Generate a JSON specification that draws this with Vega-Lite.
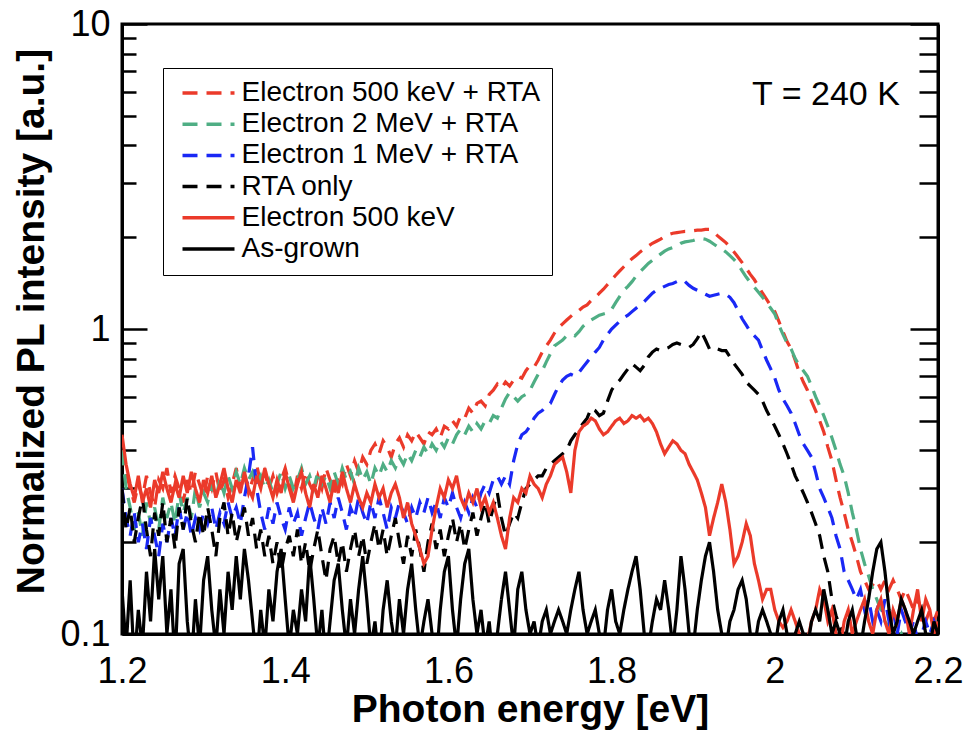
{
"$schema": "https://vega.github.io/schema/vega-lite/v6.json",
"width": 816, "height": 610,
"autosize": {"type": "none"},
"padding": {"left": 122, "top": 24, "right": 25, "bottom": 106},
"background": "white",
"config": {"font": "Liberation Sans", "view": {"stroke": "black", "strokeWidth": 3}, "axis": {"grid": false, "labelColor": "black", "titleColor": "black", "domainColor": "black", "tickColor": "black", "labelOverlap": false, "labelFlush": false}},
"datasets": {
"series": [
{"key": "a", "name": "Electron 500 keV + RTA"},
{"key": "b", "name": "Electron 2 MeV + RTA"},
{"key": "c", "name": "Electron 1 MeV + RTA"},
{"key": "d", "name": "RTA only"},
{"key": "e", "name": "Electron 500 keV"},
{"key": "f", "name": "As-grown"}
],
"spectra": [
{"x":1.200,"a":0.40,"b":0.40,"c":0.30,"d":0.30,"e":0.45,"f":0.14},
{"x":1.205,"a":0.34,"b":0.30,"c":0.24,"d":0.22,"e":0.36,"f":0.09},
{"x":1.210,"a":0.30,"b":0.26,"c":0.21,"d":0.26,"e":0.31,"f":0.15},
{"x":1.215,"a":0.27,"b":0.22,"c":0.25,"d":0.20,"e":0.28,"f":0.08},
{"x":1.220,"a":0.31,"b":0.25,"c":0.20,"d":0.24,"e":0.33,"f":0.12},
{"x":1.225,"a":0.28,"b":0.21,"c":0.23,"d":0.28,"e":0.27,"f":0.09},
{"x":1.230,"a":0.33,"b":0.27,"c":0.19,"d":0.22,"e":0.30,"f":0.16},
{"x":1.235,"a":0.29,"b":0.23,"c":0.24,"d":0.18,"e":0.26,"f":0.11},
{"x":1.240,"a":0.26,"b":0.26,"c":0.21,"d":0.25,"e":0.32,"f":0.19},
{"x":1.245,"a":0.32,"b":0.22,"c":0.18,"d":0.21,"e":0.29,"f":0.13},
{"x":1.250,"a":0.30,"b":0.28,"c":0.23,"d":0.27,"e":0.34,"f":0.18},
{"x":1.255,"a":0.35,"b":0.24,"c":0.20,"d":0.20,"e":0.30,"f":0.10},
{"x":1.260,"a":0.29,"b":0.27,"c":0.24,"d":0.24,"e":0.27,"f":0.14},
{"x":1.265,"a":0.33,"b":0.23,"c":0.21,"d":0.19,"e":0.31,"f":0.08},
{"x":1.270,"a":0.30,"b":0.29,"c":0.26,"d":0.26,"e":0.28,"f":0.17},
{"x":1.275,"a":0.27,"b":0.25,"c":0.22,"d":0.22,"e":0.33,"f":0.19},
{"x":1.280,"a":0.32,"b":0.28,"c":0.25,"d":0.28,"e":0.29,"f":0.11},
{"x":1.285,"a":0.29,"b":0.24,"c":0.21,"d":0.23,"e":0.34,"f":0.08},
{"x":1.290,"a":0.34,"b":0.30,"c":0.24,"d":0.20,"e":0.30,"f":0.13},
{"x":1.295,"a":0.31,"b":0.26,"c":0.22,"d":0.25,"e":0.27,"f":0.09},
{"x":1.300,"a":0.28,"b":0.29,"c":0.25,"d":0.21,"e":0.32,"f":0.15},
{"x":1.305,"a":0.33,"b":0.27,"c":0.23,"d":0.26,"e":0.29,"f":0.18},
{"x":1.310,"a":0.30,"b":0.31,"c":0.26,"d":0.22,"e":0.33,"f":0.12},
{"x":1.315,"a":0.34,"b":0.28,"c":0.22,"d":0.18,"e":0.28,"f":0.09},
{"x":1.320,"a":0.29,"b":0.32,"c":0.25,"d":0.24,"e":0.31,"f":0.14},
{"x":1.325,"a":0.32,"b":0.29,"c":0.23,"d":0.27,"e":0.35,"f":0.10},
{"x":1.330,"a":0.28,"b":0.33,"c":0.27,"d":0.21,"e":0.30,"f":0.16},
{"x":1.335,"a":0.31,"b":0.30,"c":0.24,"d":0.25,"e":0.27,"f":0.12},
{"x":1.340,"a":0.35,"b":0.34,"c":0.26,"d":0.20,"e":0.32,"f":0.18},
{"x":1.345,"a":0.30,"b":0.31,"c":0.23,"d":0.23,"e":0.29,"f":0.13},
{"x":1.350,"a":0.33,"b":0.35,"c":0.28,"d":0.26,"e":0.34,"f":0.19},
{"x":1.355,"a":0.29,"b":0.32,"c":0.33,"d":0.21,"e":0.30,"f":0.15},
{"x":1.360,"a":0.32,"b":0.34,"c":0.41,"d":0.24,"e":0.28,"f":0.11},
{"x":1.365,"a":0.36,"b":0.31,"c":0.30,"d":0.19,"e":0.33,"f":0.08},
{"x":1.370,"a":0.31,"b":0.33,"c":0.25,"d":0.22,"e":0.30,"f":0.12},
{"x":1.375,"a":0.34,"b":0.30,"c":0.22,"d":0.18,"e":0.35,"f":0.09},
{"x":1.380,"a":0.30,"b":0.32,"c":0.26,"d":0.21,"e":0.31,"f":0.14},
{"x":1.385,"a":0.33,"b":0.29,"c":0.23,"d":0.17,"e":0.28,"f":0.11},
{"x":1.390,"a":0.29,"b":0.31,"c":0.27,"d":0.20,"e":0.32,"f":0.16},
{"x":1.395,"a":0.32,"b":0.34,"c":0.24,"d":0.16,"e":0.29,"f":0.19},
{"x":1.400,"a":0.35,"b":0.30,"c":0.22,"d":0.19,"e":0.34,"f":0.13},
{"x":1.405,"a":0.31,"b":0.33,"c":0.26,"d":0.21,"e":0.30,"f":0.09},
{"x":1.410,"a":0.28,"b":0.30,"c":0.23,"d":0.18,"e":0.27,"f":0.12},
{"x":1.415,"a":0.33,"b":0.32,"c":0.25,"d":0.22,"e":0.31,"f":0.10},
{"x":1.420,"a":0.30,"b":0.35,"c":0.21,"d":0.17,"e":0.34,"f":0.14},
{"x":1.425,"a":0.34,"b":0.31,"c":0.24,"d":0.20,"e":0.29,"f":0.11},
{"x":1.430,"a":0.31,"b":0.33,"c":0.27,"d":0.16,"e":0.26,"f":0.18},
{"x":1.435,"a":0.29,"b":0.30,"c":0.24,"d":0.19,"e":0.31,"f":0.13},
{"x":1.440,"a":0.33,"b":0.34,"c":0.22,"d":0.22,"e":0.28,"f":0.09},
{"x":1.445,"a":0.30,"b":0.31,"c":0.26,"d":0.18,"e":0.33,"f":0.12},
{"x":1.450,"a":0.35,"b":0.33,"c":0.23,"d":0.15,"e":0.30,"f":0.08},
{"x":1.455,"a":0.32,"b":0.30,"c":0.27,"d":0.19,"e":0.27,"f":0.11},
{"x":1.460,"a":0.29,"b":0.34,"c":0.24,"d":0.21,"e":0.32,"f":0.15},
{"x":1.465,"a":0.33,"b":0.31,"c":0.28,"d":0.17,"e":0.29,"f":0.17},
{"x":1.470,"a":0.31,"b":0.35,"c":0.25,"d":0.20,"e":0.34,"f":0.12},
{"x":1.475,"a":0.36,"b":0.32,"c":0.22,"d":0.16,"e":0.30,"f":0.09},
{"x":1.480,"a":0.33,"b":0.34,"c":0.26,"d":0.19,"e":0.27,"f":0.13},
{"x":1.485,"a":0.37,"b":0.31,"c":0.24,"d":0.22,"e":0.31,"f":0.10},
{"x":1.490,"a":0.34,"b":0.35,"c":0.28,"d":0.18,"e":0.28,"f":0.14},
{"x":1.495,"a":0.38,"b":0.32,"c":0.25,"d":0.21,"e":0.26,"f":0.18},
{"x":1.500,"a":0.36,"b":0.34,"c":0.23,"d":0.17,"e":0.29,"f":0.13},
{"x":1.505,"a":0.40,"b":0.31,"c":0.27,"d":0.20,"e":0.27,"f":0.09},
{"x":1.510,"a":0.42,"b":0.35,"c":0.24,"d":0.23,"e":0.31,"f":0.11},
{"x":1.515,"a":0.39,"b":0.33,"c":0.28,"d":0.19,"e":0.28,"f":0.08},
{"x":1.520,"a":0.43,"b":0.36,"c":0.25,"d":0.22,"e":0.30,"f":0.12},
{"x":1.525,"a":0.41,"b":0.34,"c":0.22,"d":0.18,"e":0.26,"f":0.15},
{"x":1.530,"a":0.38,"b":0.37,"c":0.26,"d":0.21,"e":0.29,"f":0.11},
{"x":1.535,"a":0.42,"b":0.35,"c":0.24,"d":0.24,"e":0.31,"f":0.09},
{"x":1.540,"a":0.44,"b":0.38,"c":0.27,"d":0.20,"e":0.28,"f":0.13},
{"x":1.545,"a":0.41,"b":0.36,"c":0.25,"d":0.17,"e":0.24,"f":0.10},
{"x":1.550,"a":0.45,"b":0.39,"c":0.23,"d":0.21,"e":0.27,"f":0.14},
{"x":1.555,"a":0.43,"b":0.37,"c":0.26,"d":0.18,"e":0.23,"f":0.17},
{"x":1.560,"a":0.46,"b":0.40,"c":0.24,"d":0.22,"e":0.21,"f":0.12},
{"x":1.565,"a":0.44,"b":0.38,"c":0.27,"d":0.19,"e":0.19,"f":0.09},
{"x":1.570,"a":0.42,"b":0.41,"c":0.25,"d":0.16,"e":0.17,"f":0.11},
{"x":1.575,"a":0.46,"b":0.39,"c":0.28,"d":0.20,"e":0.18,"f":0.13},
{"x":1.580,"a":0.45,"b":0.42,"c":0.25,"d":0.23,"e":0.22,"f":0.10},
{"x":1.585,"a":0.47,"b":0.40,"c":0.27,"d":0.19,"e":0.26,"f":0.08},
{"x":1.590,"a":0.44,"b":0.43,"c":0.24,"d":0.22,"e":0.30,"f":0.12},
{"x":1.595,"a":0.48,"b":0.41,"c":0.28,"d":0.18,"e":0.28,"f":0.16},
{"x":1.600,"a":0.47,"b":0.44,"c":0.26,"d":0.21,"e":0.32,"f":0.18},
{"x":1.605,"a":0.50,"b":0.42,"c":0.29,"d":0.24,"e":0.30,"f":0.12},
{"x":1.610,"a":0.48,"b":0.45,"c":0.26,"d":0.20,"e":0.33,"f":0.09},
{"x":1.615,"a":0.52,"b":0.47,"c":0.24,"d":0.23,"e":0.28,"f":0.13},
{"x":1.620,"a":0.51,"b":0.45,"c":0.27,"d":0.19,"e":0.26,"f":0.17},
{"x":1.625,"a":0.55,"b":0.48,"c":0.25,"d":0.22,"e":0.29,"f":0.19},
{"x":1.630,"a":0.53,"b":0.46,"c":0.28,"d":0.25,"e":0.27,"f":0.13},
{"x":1.635,"a":0.57,"b":0.49,"c":0.26,"d":0.21,"e":0.30,"f":0.10},
{"x":1.640,"a":0.58,"b":0.47,"c":0.29,"d":0.24,"e":0.26,"f":0.12},
{"x":1.645,"a":0.56,"b":0.50,"c":0.31,"d":0.27,"e":0.28,"f":0.09},
{"x":1.650,"a":0.61,"b":0.49,"c":0.29,"d":0.23,"e":0.25,"f":0.11},
{"x":1.655,"a":0.63,"b":0.52,"c":0.32,"d":0.26,"e":0.27,"f":0.08},
{"x":1.660,"a":0.66,"b":0.51,"c":0.33,"d":0.29,"e":0.24,"f":0.10},
{"x":1.665,"a":0.64,"b":0.55,"c":0.31,"d":0.24,"e":0.21,"f":0.13},
{"x":1.670,"a":0.67,"b":0.59,"c":0.33,"d":0.21,"e":0.19,"f":0.16},
{"x":1.675,"a":0.65,"b":0.62,"c":0.31,"d":0.23,"e":0.24,"f":0.12},
{"x":1.680,"a":0.68,"b":0.60,"c":0.37,"d":0.25,"e":0.28,"f":0.09},
{"x":1.685,"a":0.70,"b":0.58,"c":0.42,"d":0.24,"e":0.27,"f":0.14},
{"x":1.690,"a":0.69,"b":0.60,"c":0.45,"d":0.27,"e":0.30,"f":0.16},
{"x":1.695,"a":0.73,"b":0.61,"c":0.46,"d":0.30,"e":0.29,"f":0.12},
{"x":1.700,"a":0.76,"b":0.63,"c":0.48,"d":0.31,"e":0.33,"f":0.10},
{"x":1.705,"a":0.75,"b":0.67,"c":0.51,"d":0.32,"e":0.31,"f":0.11},
{"x":1.710,"a":0.79,"b":0.71,"c":0.53,"d":0.33,"e":0.30,"f":0.09},
{"x":1.715,"a":0.84,"b":0.73,"c":0.54,"d":0.33,"e":0.28,"f":0.11},
{"x":1.720,"a":0.88,"b":0.78,"c":0.56,"d":0.35,"e":0.31,"f":0.12},
{"x":1.725,"a":0.92,"b":0.83,"c":0.57,"d":0.36,"e":0.33,"f":0.10},
{"x":1.730,"a":0.97,"b":0.88,"c":0.61,"d":0.37,"e":0.36,"f":0.11},
{"x":1.735,"a":1.01,"b":0.90,"c":0.65,"d":0.38,"e":0.37,"f":0.12},
{"x":1.740,"a":1.04,"b":0.92,"c":0.68,"d":0.39,"e":0.38,"f":0.11},
{"x":1.745,"a":1.07,"b":0.95,"c":0.70,"d":0.40,"e":0.34,"f":0.10},
{"x":1.750,"a":1.10,"b":0.96,"c":0.71,"d":0.43,"e":0.29,"f":0.12},
{"x":1.755,"a":1.13,"b":0.95,"c":0.70,"d":0.45,"e":0.40,"f":0.14},
{"x":1.760,"a":1.15,"b":0.98,"c":0.72,"d":0.47,"e":0.46,"f":0.16},
{"x":1.765,"a":1.18,"b":1.02,"c":0.75,"d":0.49,"e":0.48,"f":0.12},
{"x":1.770,"a":1.20,"b":1.05,"c":0.78,"d":0.51,"e":0.49,"f":0.10},
{"x":1.775,"a":1.24,"b":1.07,"c":0.81,"d":0.55,"e":0.51,"f":0.11},
{"x":1.780,"a":1.27,"b":1.09,"c":0.84,"d":0.54,"e":0.50,"f":0.12},
{"x":1.785,"a":1.31,"b":1.11,"c":0.87,"d":0.52,"e":0.47,"f":0.10},
{"x":1.790,"a":1.35,"b":1.12,"c":0.92,"d":0.53,"e":0.45,"f":0.09},
{"x":1.795,"a":1.40,"b":1.13,"c":0.96,"d":0.58,"e":0.46,"f":0.12},
{"x":1.800,"a":1.45,"b":1.16,"c":1.00,"d":0.63,"e":0.48,"f":0.14},
{"x":1.805,"a":1.50,"b":1.22,"c":1.03,"d":0.66,"e":0.50,"f":0.11},
{"x":1.810,"a":1.55,"b":1.28,"c":1.06,"d":0.68,"e":0.51,"f":0.10},
{"x":1.815,"a":1.60,"b":1.34,"c":1.09,"d":0.71,"e":0.49,"f":0.12},
{"x":1.820,"a":1.65,"b":1.38,"c":1.11,"d":0.74,"e":0.50,"f":0.14},
{"x":1.825,"a":1.70,"b":1.43,"c":1.14,"d":0.77,"e":0.52,"f":0.16},
{"x":1.830,"a":1.74,"b":1.49,"c":1.17,"d":0.75,"e":0.51,"f":0.18},
{"x":1.835,"a":1.79,"b":1.54,"c":1.20,"d":0.73,"e":0.52,"f":0.14},
{"x":1.840,"a":1.83,"b":1.59,"c":1.23,"d":0.76,"e":0.50,"f":0.10},
{"x":1.845,"a":1.87,"b":1.64,"c":1.27,"d":0.81,"e":0.51,"f":0.09},
{"x":1.850,"a":1.91,"b":1.68,"c":1.31,"d":0.84,"e":0.49,"f":0.11},
{"x":1.855,"a":1.94,"b":1.72,"c":1.34,"d":0.86,"e":0.46,"f":0.13},
{"x":1.860,"a":1.97,"b":1.76,"c":1.36,"d":0.85,"e":0.42,"f":0.12},
{"x":1.865,"a":2.01,"b":1.80,"c":1.38,"d":0.86,"e":0.39,"f":0.15},
{"x":1.870,"a":2.04,"b":1.83,"c":1.40,"d":0.87,"e":0.41,"f":0.12},
{"x":1.875,"a":2.06,"b":1.85,"c":1.41,"d":0.89,"e":0.43,"f":0.09},
{"x":1.880,"a":2.07,"b":1.87,"c":1.43,"d":0.90,"e":0.42,"f":0.12},
{"x":1.885,"a":2.08,"b":1.91,"c":1.45,"d":0.89,"e":0.40,"f":0.18},
{"x":1.890,"a":2.09,"b":1.93,"c":1.43,"d":0.88,"e":0.39,"f":0.14},
{"x":1.895,"a":2.09,"b":1.94,"c":1.39,"d":0.87,"e":0.36,"f":0.10},
{"x":1.900,"a":2.10,"b":1.95,"c":1.36,"d":0.89,"e":0.34,"f":0.09},
{"x":1.905,"a":2.11,"b":1.97,"c":1.34,"d":0.93,"e":0.32,"f":0.12},
{"x":1.910,"a":2.11,"b":1.98,"c":1.32,"d":0.98,"e":0.29,"f":0.15},
{"x":1.915,"a":2.12,"b":1.97,"c":1.30,"d":0.92,"e":0.26,"f":0.18},
{"x":1.920,"a":2.12,"b":1.94,"c":1.28,"d":0.86,"e":0.21,"f":0.20},
{"x":1.925,"a":2.08,"b":1.90,"c":1.29,"d":0.85,"e":0.24,"f":0.16},
{"x":1.930,"a":2.02,"b":1.86,"c":1.30,"d":0.86,"e":0.27,"f":0.12},
{"x":1.935,"a":1.97,"b":1.83,"c":1.31,"d":0.85,"e":0.31,"f":0.10},
{"x":1.940,"a":1.92,"b":1.79,"c":1.30,"d":0.85,"e":0.27,"f":0.09},
{"x":1.945,"a":1.86,"b":1.74,"c":1.27,"d":0.81,"e":0.22,"f":0.11},
{"x":1.950,"a":1.79,"b":1.69,"c":1.22,"d":0.77,"e":0.17,"f":0.12},
{"x":1.955,"a":1.72,"b":1.63,"c":1.15,"d":0.74,"e":0.18,"f":0.14},
{"x":1.960,"a":1.65,"b":1.55,"c":1.08,"d":0.71,"e":0.20,"f":0.15},
{"x":1.965,"a":1.58,"b":1.48,"c":1.03,"d":0.67,"e":0.23,"f":0.13},
{"x":1.970,"a":1.51,"b":1.42,"c":0.98,"d":0.65,"e":0.21,"f":0.10},
{"x":1.975,"a":1.45,"b":1.37,"c":0.95,"d":0.63,"e":0.17,"f":0.09},
{"x":1.980,"a":1.38,"b":1.32,"c":0.92,"d":0.61,"e":0.15,"f":0.11},
{"x":1.985,"a":1.31,"b":1.27,"c":0.85,"d":0.58,"e":0.13,"f":0.12},
{"x":1.990,"a":1.25,"b":1.22,"c":0.79,"d":0.54,"e":0.14,"f":0.11},
{"x":1.995,"a":1.19,"b":1.17,"c":0.74,"d":0.51,"e":0.14,"f":0.10},
{"x":2.000,"a":1.14,"b":1.12,"c":0.69,"d":0.48,"e":0.12,"f":0.09},
{"x":2.005,"a":1.06,"b":1.03,"c":0.63,"d":0.45,"e":0.11,"f":0.11},
{"x":2.010,"a":0.98,"b":0.96,"c":0.59,"d":0.42,"e":0.105,"f":0.12},
{"x":2.015,"a":0.91,"b":0.90,"c":0.56,"d":0.39,"e":0.11,"f":0.10},
{"x":2.020,"a":0.86,"b":0.86,"c":0.53,"d":0.36,"e":0.12,"f":0.09},
{"x":2.025,"a":0.79,"b":0.80,"c":0.49,"d":0.33,"e":0.11,"f":0.10},
{"x":2.030,"a":0.72,"b":0.76,"c":0.45,"d":0.31,"e":0.10,"f":0.11},
{"x":2.035,"a":0.67,"b":0.73,"c":0.42,"d":0.29,"e":0.09,"f":0.10},
{"x":2.040,"a":0.63,"b":0.70,"c":0.40,"d":0.27,"e":0.095,"f":0.09},
{"x":2.045,"a":0.58,"b":0.65,"c":0.38,"d":0.25,"e":0.11,"f":0.11},
{"x":2.050,"a":0.54,"b":0.60,"c":0.34,"d":0.23,"e":0.12,"f":0.12},
{"x":2.055,"a":0.50,"b":0.56,"c":0.30,"d":0.21,"e":0.14,"f":0.11},
{"x":2.060,"a":0.46,"b":0.52,"c":0.28,"d":0.18,"e":0.13,"f":0.14},
{"x":2.065,"a":0.41,"b":0.48,"c":0.26,"d":0.16,"e":0.11,"f":0.12},
{"x":2.070,"a":0.37,"b":0.44,"c":0.24,"d":0.13,"e":0.12,"f":0.10},
{"x":2.075,"a":0.32,"b":0.40,"c":0.21,"d":0.115,"e":0.10,"f":0.11},
{"x":2.080,"a":0.28,"b":0.36,"c":0.19,"d":0.105,"e":0.09,"f":0.10},
{"x":2.085,"a":0.25,"b":0.33,"c":0.16,"d":0.10,"e":0.11,"f":0.09},
{"x":2.090,"a":0.22,"b":0.29,"c":0.15,"d":0.095,"e":0.12,"f":0.11},
{"x":2.095,"a":0.20,"b":0.25,"c":0.14,"d":0.10,"e":0.10,"f":0.12},
{"x":2.100,"a":0.18,"b":0.22,"c":0.13,"d":0.09,"e":0.11,"f":0.10},
{"x":2.105,"a":0.16,"b":0.19,"c":0.14,"d":0.095,"e":0.12,"f":0.09},
{"x":2.110,"a":0.15,"b":0.17,"c":0.12,"d":0.09,"e":0.13,"f":0.11},
{"x":2.115,"a":0.14,"b":0.155,"c":0.13,"d":0.095,"e":0.11,"f":0.13},
{"x":2.120,"a":0.145,"b":0.14,"c":0.11,"d":0.09,"e":0.10,"f":0.16},
{"x":2.125,"a":0.15,"b":0.13,"c":0.12,"d":0.09,"e":0.12,"f":0.19},
{"x":2.130,"a":0.14,"b":0.12,"c":0.11,"d":0.09,"e":0.13,"f":0.20},
{"x":2.135,"a":0.15,"b":0.11,"c":0.13,"d":0.09,"e":0.11,"f":0.16},
{"x":2.140,"a":0.14,"b":0.105,"c":0.11,"d":0.09,"e":0.10,"f":0.12},
{"x":2.145,"a":0.15,"b":0.10,"c":0.12,"d":0.09,"e":0.12,"f":0.10},
{"x":2.150,"a":0.14,"b":0.095,"c":0.10,"d":0.09,"e":0.11,"f":0.11},
{"x":2.155,"a":0.13,"b":0.10,"c":0.12,"d":0.09,"e":0.13,"f":0.13},
{"x":2.160,"a":0.14,"b":0.09,"c":0.11,"d":0.09,"e":0.12,"f":0.12},
{"x":2.165,"a":0.13,"b":0.095,"c":0.10,"d":0.09,"e":0.10,"f":0.11},
{"x":2.170,"a":0.12,"b":0.09,"c":0.11,"d":0.09,"e":0.12,"f":0.10},
{"x":2.175,"a":0.13,"b":0.09,"c":0.095,"d":0.09,"e":0.14,"f":0.11},
{"x":2.180,"a":0.12,"b":0.09,"c":0.10,"d":0.09,"e":0.11,"f":0.12},
{"x":2.185,"a":0.11,"b":0.09,"c":0.11,"d":0.09,"e":0.13,"f":0.10},
{"x":2.190,"a":0.12,"b":0.09,"c":0.10,"d":0.09,"e":0.12,"f":0.09},
{"x":2.195,"a":0.11,"b":0.09,"c":0.11,"d":0.09,"e":0.10,"f":0.11},
{"x":2.200,"a":0.12,"b":0.09,"c":0.10,"d":0.09,"e":0.11,"f":0.10}
],
"note": [{"x": 2.0627, "y": 5.43, "t": "T = 240 K"}]
},
"layer": [
{
"data": {"name": "spectra"},
"transform": [
{"fold": ["a", "b", "c", "d", "e", "f"], "as": ["key", "value"]},
{"lookup": "key", "from": {"data": {"name": "series"}, "key": "key", "fields": ["name"]}}
],
"mark": {"type": "line", "clip": true, "strokeWidth": 3.2, "strokeCap": "butt", "strokeJoin": "miter"},
"encoding": {
"x": {"field": "x", "type": "quantitative", "scale": {"domain": [1.2, 2.2], "nice": false, "zero": false},
"axis": {"orient": "bottom", "values": [1.2, 1.4, 1.6, 1.8, 2.0, 2.2], "format": "~g", "ticks": false, "domainWidth": 3, "labelFontSize": 36, "labelPadding": 20, "title": "Photon energy [eV]", "titleFontSize": 39, "titleFontWeight": "bold", "titlePadding": 1}},
"y": {"field": "value", "type": "quantitative", "scale": {"type": "log", "domain": [0.1, 10], "nice": false},
"axis": {"orient": "left", "values": [0.1, 0.2, 0.3, 0.4, 0.5, 0.6, 0.7, 0.8, 0.9, 1, 2, 3, 4, 5, 6, 7, 8, 9, 10], "format": "~g",
"labelExpr": "(datum.value == 1 || datum.value == 10 || abs(datum.value - 0.1) < 1e-6) ? datum.label : ''",
"tickSize": {"condition": {"test": "datum.value == 1 || datum.value == 10 || abs(datum.value - 0.1) < 1e-6", "value": -25}, "value": -14},
"tickWidth": 2.5, "domainWidth": 3, "labelFontSize": 36, "labelPadding": 37,
"title": "Normalized PL intensity [a.u.]", "titleFontSize": 39, "titleFontWeight": "bold", "titleAngle": -90, "titleBaseline": "alphabetic", "titleAlign": "center", "titleX": -79, "titleY": 297}},
"color": {"field": "name", "type": "nominal",
"scale": {"domain": ["Electron 500 keV + RTA", "Electron 2 MeV + RTA", "Electron 1 MeV + RTA", "RTA only", "Electron 500 keV", "As-grown"], "range": ["#eb3a2a", "#4fae84", "#1a28f5", "#000000", "#eb3a2a", "#000000"]},
"legend": {"title": null, "orient": "none", "legendX": 41, "legendY": 44, "strokeColor": "black", "fillColor": "white", "padding": 11.5, "symbolType": "stroke", "symbolSize": 2704, "symbolStrokeWidth": 3.5, "labelFontSize": 28, "labelColor": "black", "labelLimit": 600, "clipHeight": 27, "rowPadding": 2.2, "labelOffset": 5, "symbolOffset": 6}},
"strokeDash": {"field": "name", "type": "nominal",
"scale": {"domain": ["Electron 500 keV + RTA", "Electron 2 MeV + RTA", "Electron 1 MeV + RTA", "RTA only", "Electron 500 keV", "As-grown"], "range": [[15, 9], [15, 9], [15, 9], [15, 9], [1, 0], [1, 0]]},
"legend": {"title": null}}
}
},
{
"data": {"name": "note"},
"mark": {"type": "text", "fontSize": 34, "align": "center", "baseline": "alphabetic", "color": "black"},
"encoding": {
"x": {"field": "x", "type": "quantitative", "scale": {"domain": [1.2, 2.2], "nice": false, "zero": false}, "axis": null},
"y": {"field": "y", "type": "quantitative", "scale": {"type": "log", "domain": [0.1, 10], "nice": false},
"axis": {"orient": "right", "values": [0.1, 0.2, 0.3, 0.4, 0.5, 0.6, 0.7, 0.8, 0.9, 1, 2, 3, 4, 5, 6, 7, 8, 9, 10], "labels": false, "title": null,
"tickSize": {"condition": {"test": "datum.value == 1 || datum.value == 10 || abs(datum.value - 0.1) < 1e-6", "value": -28}, "value": -19},
"tickWidth": 2.5, "domainWidth": 3}},
"text": {"field": "t"}
}
}
],
"resolve": {"axis": {"x": "independent", "y": "independent"}}
}
